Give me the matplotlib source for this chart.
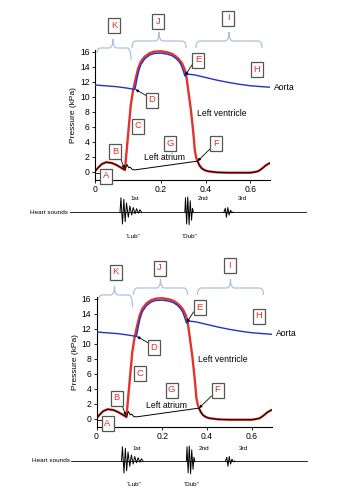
import matplotlib
matplotlib.use("Agg")
import matplotlib.pyplot as plt
from matplotlib.path import Path
from matplotlib.patches import PathPatch, Rectangle

plt.rcParams['font.family'] = ['Liberation Sans', 'DejaVu Sans']

W, H = 353, 500

# ---------------- data ----------------
t_ventricle = [-0.095, -0.08, -0.065, -0.045, -0.02, 0.0, 0.02, 0.039, 0.045, 0.055,
               0.065, 0.075, 0.085, 0.098, 0.11, 0.128, 0.15, 0.17, 0.2, 0.23,
               0.25, 0.265, 0.28, 0.293, 0.302, 0.309, 0.315, 0.325, 0.334, 0.345,
               0.352, 0.358, 0.364, 0.372, 0.382, 0.395, 0.41, 0.45, 0.5, 0.55,
               0.6, 0.62, 0.635, 0.65, 0.67, 0.688]
p_ventricle = [0.1, 0.6, 1.05, 1.3, 1.2, 0.95, 0.6, 0.25, 2.3, 5.6,
               8.9, 10.8, 12.2, 13.8, 14.7, 15.4, 15.85, 16.05, 16.1, 15.95,
               15.75, 15.45, 15.05, 14.55, 14.0, 13.4, 12.5, 10.3, 8.3, 5.2,
               2.8, 1.9, 1.4, 0.9, 0.5, 0.25, 0.1, -0.05, -0.1, -0.1,
               -0.1, 0.0, 0.1, 0.4, 0.9, 1.2]

t_aorta = [-0.095, 0.0, 0.05, 0.084, 0.092, 0.1, 0.11, 0.128, 0.15, 0.17,
           0.2, 0.23, 0.25, 0.265, 0.28, 0.29, 0.3, 0.307, 0.313, 0.32,
           0.35, 0.4, 0.45, 0.5, 0.55, 0.6, 0.65, 0.688]
p_aorta = [11.6, 11.38, 11.18, 11.0, 12.3, 13.4, 14.3, 15.1, 15.6, 15.8,
           15.85, 15.7, 15.5, 15.2, 14.75, 14.3, 13.5, 12.8, 12.9, 13.05,
           12.95, 12.6, 12.25, 11.95, 11.7, 11.5, 11.38, 11.3]

t_atrium = [-0.095, -0.08, -0.065, -0.045, -0.02, 0.0, 0.02, 0.039, 0.048, 0.056,
            0.062, 0.072, 0.084, 0.364, 0.372, 0.382, 0.395, 0.41, 0.45, 0.5,
            0.55, 0.6, 0.62, 0.635, 0.65, 0.67, 0.688]
p_atrium = [0.1, 0.6, 1.05, 1.3, 1.2, 0.95, 0.6, 0.3, 1.0, 0.55,
            0.65, 0.32, 0.28, 1.45, 0.9, 0.5, 0.25, 0.1, -0.05, -0.1,
            -0.1, -0.1, 0.0, 0.1, 0.4, 0.9, 1.2]

# heart sounds (time, amplitude)
t_sound1 = [0.017, 0.021, 0.028, 0.034, 0.040, 0.046, 0.054, 0.061, 0.069, 0.076,
            0.084, 0.091, 0.099, 0.106, 0.113]
a_sound1 = [0.0, 0.95, -0.8, 0.85, -0.65, 0.6, -0.35, 0.4, -0.2, 0.3,
            -0.12, 0.22, -0.08, 0.15, 0.0]
t_sound2 = [0.307, 0.310, 0.315, 0.320, 0.326, 0.331, 0.337, 0.341, 0.345]
a_sound2 = [0.0, 0.95, -0.8, 1.0, -0.85, 0.75, -0.55, 0.25, 0.0]
t_sound3 = [0.482, 0.488, 0.493, 0.499, 0.505, 0.511, 0.517, 0.524]
a_sound3 = [0.0, 0.25, -0.35, 0.3, -0.2, 0.12, -0.05, 0.0]
t_base = [-0.207, 0.849]
a_base = [0.0, 0.0]

y_ticks = [0, 2, 4, 6, 8, 10, 12, 14, 16]
x_tick_pos = [-0.095, 0.2, 0.4, 0.6]
x_tick_labels = ['0', '0.2', '0.4', '0.6']

# letter boxes: letter, x px, y px (top panel)
box_letters = ['K', 'J', 'I', 'E', 'H', 'D', 'C', 'G', 'F', 'B', 'A']
box_x = [114, 158, 228, 198, 257, 152, 138, 170, 216, 115, 106]
box_y = [25, 21, 18, 60, 69, 100, 126, 143, 143, 151, 176]

RED = '#e2332c'
BLUE = '#2233c4'
BRACE = '#a9c3df'

fig = plt.figure(figsize=(W / 100, H / 100), dpi=100)
fig.patch.set_facecolor('white')

over = fig.add_axes([0, 0, 1, 1])
over.set_xlim(0, W)
over.set_ylim(H, 0)
over.axis('off')
over.set_zorder(5)
over.patch.set_alpha(0)

PX_PER_T = 223.5


def t_of_px(px, dx):
    return (px - (95 + dx)) / PX_PER_T - 0.095


def brace(x0, x1, xm, yl, yt, ye0, ye1):
    verts = [(x0, ye0), (x0, yl), (x0 + 4, yl), (xm - 4, yl), (xm, yl), (xm, yt),
             (xm, yl), (xm + 4, yl), (x1 - 4, yl), (x1, yl), (x1, ye1)]
    codes = [Path.MOVETO, Path.CURVE3, Path.CURVE3, Path.LINETO, Path.CURVE3, Path.CURVE3,
             Path.CURVE3, Path.CURVE3, Path.LINETO, Path.CURVE3, Path.CURVE3]
    over.add_patch(PathPatch(Path(verts, codes), facecolor='none', edgecolor=BRACE, lw=0.9))


def panel(dx, dy, dyh):
    left, top = 95 + dx, 49.75 + dy
    ax = fig.add_axes([left / W, 1 - (top + 130.25) / H, 175 / W, 130.25 / H])
    ax.set_xlim(-0.095, 0.688)
    ax.set_ylim(-1.07, 16.3)
    for s in ['top', 'right']:
        ax.spines[s].set_visible(False)
    for s in ['left', 'bottom']:
        ax.spines[s].set_linewidth(0.8)
    ax.set_yticks(y_ticks)
    ax.set_xticks(x_tick_pos)
    ax.set_xticklabels(x_tick_labels)
    ax.tick_params(labelsize=6.2, length=2.2, width=0.6, pad=1.5)
    ax.set_ylabel('Pressure (kPa)', fontsize=6, labelpad=2)
    ax.patch.set_alpha(0)

    ax.plot(t_ventricle, p_ventricle, color=RED, lw=1.7, solid_capstyle='round',
            solid_joinstyle='round', zorder=2)
    ax.plot(t_aorta, p_aorta, color=BLUE, lw=1.0, solid_joinstyle='round', zorder=3)
    ax.plot(t_atrium, p_atrium, color='black', lw=0.7, zorder=4)

    # heart sounds axes
    hl, hr = 60 + dx, 320 + dx
    hc = 212 + dyh
    hax = fig.add_axes([hl / W, 1 - (hc + 18) / H, (hr - hl) / W, 36 / H])
    hax.set_xlim(t_of_px(hl, dx), t_of_px(hr, dx))
    hax.set_ylim(-1.2, 1.2)
    hax.axis('off')
    hax.plot(t_base, a_base, color='black', lw=0.6)
    for ts, as_ in [(t_sound1, a_sound1), (t_sound2, a_sound2), (t_sound3, a_sound3)]:
        hax.plot(ts, as_, color='black', lw=0.7)

    # texts
    over.text(274 + dx, 87 + dy, 'Aorta', fontsize=6.2, va='center', ha='left')
    over.text(197 + dx, 113 + dy, 'Left ventricle', fontsize=6.2, va='center', ha='left')
    over.text(144 + dx, 158 + dy, 'Left atrium', fontsize=6.2, va='center', ha='left')
    over.text(68 + dx, hc, 'Heart sounds', fontsize=4.6, va='center', ha='right')
    over.text(135 + dx, hc - 13, '1st', fontsize=4.6, va='center', ha='center')
    over.text(203 + dx, hc - 13, '2nd', fontsize=4.6, va='center', ha='center')
    over.text(242 + dx, hc - 13, '3rd', fontsize=4.6, va='center', ha='center')
    over.text(133 + dx, hc + 24, '\u201cLub\u201d', fontsize=4.6, va='center', ha='center')
    over.text(190 + dx, hc + 24, '\u201cDub\u201d', fontsize=4.6, va='center', ha='center')

    # braces
    brace(97 + dx, 131 + dx, 113 + dx, 48 + dy, 39 + dy, 53 + dy, 60 + dy)
    brace(132 + dx, 186 + dx, 159 + dx, 41 + dy, 32 + dy, 48 + dy, 48 + dy)
    brace(196 + dx, 262 + dx, 229 + dx, 41 + dy, 32 + dy, 48 + dy, 48 + dy)

    # arrows
    arrows = [((147, 96), (0.086, 11.0)),
              ((192, 65), (0.309, 12.9)),
              ((210, 149), (0.364, 1.45)),
              ((120, 157), (0.037, 0.45))]
    for (px, py), (t, p) in arrows:
        over.annotate('', xy=(t, p), xycoords=ax.transData,
                      xytext=(px + dx, py + dy), textcoords='data',
                      arrowprops=dict(arrowstyle='-|>', lw=0.6, color='black',
                                      mutation_scale=4, shrinkA=0, shrinkB=0))
    over.plot([96 + dx, 100 + dx], [173 + dy, 173 + dy], color='black', lw=0.6)

    # letter boxes
    for L, bx, by in zip(box_letters, box_x, box_y):
        over.add_patch(Rectangle((bx - 6 + dx, by - 7.5 + dy), 12, 15,
                                 facecolor='white', edgecolor='#555555', lw=0.9, zorder=6))
        over.text(bx + dx, by + dy, L, color=RED, fontsize=6.8, ha='center', va='center', zorder=7)
    return ax


panel(0, 0, 0)
panel(1.5, 247, 249)

fig.savefig('out.png', dpi=100, facecolor='white')
